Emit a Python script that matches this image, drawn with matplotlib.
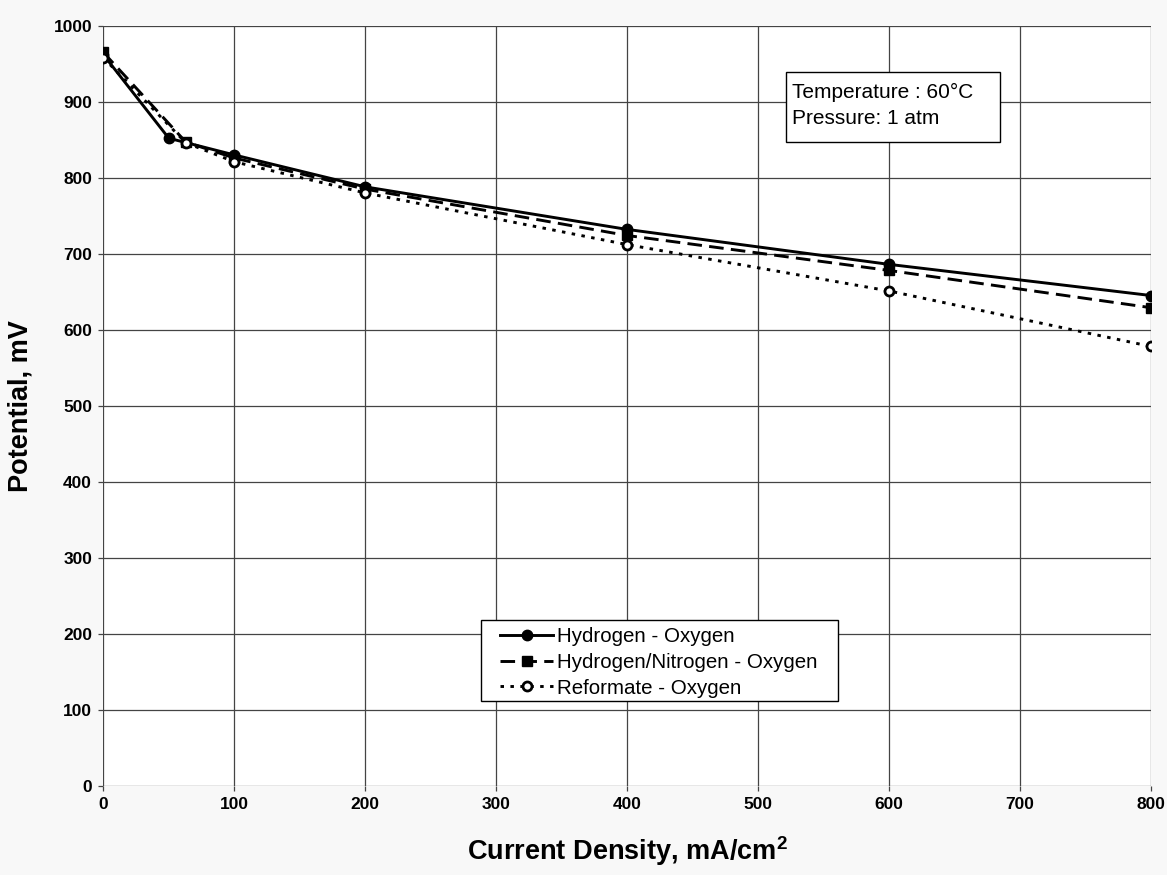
import matplotlib
matplotlib.use("Agg")
import matplotlib.pyplot as plt
from matplotlib.patches import Rectangle

plt.rcParams['font.family'] = ['Liberation Sans', 'DejaVu Sans']
plt.rcParams['mathtext.fontset'] = 'custom'
plt.rcParams['mathtext.rm'] = 'Liberation Sans'
plt.rcParams['mathtext.bf'] = 'Liberation Sans:bold'

h2_x = [0, 50, 100, 200, 400, 600, 800]
h2_y = [962, 852, 830, 788, 732, 686, 645]
n2_x = [0, 63, 100, 200, 400, 600, 800]
n2_y = [965, 847, 826, 785, 724, 678, 629]
ref_x = [0, 63, 100, 200, 400, 600, 800]
ref_y = [958, 846, 821, 780, 712, 651, 578]

labels = ["Hydrogen - Oxygen", "Hydrogen/Nitrogen - Oxygen", "Reformate - Oxygen"]
x_ticks = [0, 100, 200, 300, 400, 500, 600, 700, 800]
y_ticks = [0, 100, 200, 300, 400, 500, 600, 700, 800, 900, 1000]

fig = plt.figure(figsize=(11.67, 8.75), dpi=100)
fig.patch.set_facecolor('#f8f8f8')
ax = fig.add_axes([0.0885, 0.102, 0.8978, 0.8686])
ax.set_facecolor('white')

ax.plot(h2_x, h2_y, color='black', lw=2.1, ls='-', marker='o', ms=7.5,
        mfc='black', mec='black', label=labels[0], zorder=3)
ax.plot(n2_x, n2_y, color='black', lw=2.1, ls=(0, (5, 2.5)), marker='s', ms=7,
        mfc='black', mec='black', label=labels[1], zorder=3)
ax.plot(ref_x, ref_y, color='black', lw=2.1, ls=(0, (1.2, 2.2)), marker='o', ms=6.5,
        mfc='white', mec='black', mew=2, label=labels[2], zorder=3)

ax.set_xlim(0, 800)
ax.set_ylim(0, 1000)
ax.set_xticks(x_ticks)
ax.set_yticks(y_ticks)
ax.grid(True, color='#444444', lw=0.9)
ax.set_axisbelow(True)
for s in ax.spines.values():
    s.set_visible(False)
ax.tick_params(axis='both', direction='out', length=3.6, width=0.9, color='#444444',
               labelsize=12.5, pad=4.5)
for lab in ax.get_xticklabels() + ax.get_yticklabels():
    lab.set_fontweight('bold')

ax.set_xlabel("Current Density, mA/cm$^\\mathbf{2}$", fontsize=19.5, fontweight='bold', labelpad=16)
ax.set_ylabel("Potential, mV", fontsize=19.5, fontweight='bold', labelpad=14)

# legend frame
frame = Rectangle((481/1167, 1 - 701/875), 357/1167, 81/875,
                  transform=fig.transFigure, fc='white', ec='black', lw=1,
                  zorder=4, clip_on=False)
ax.add_patch(frame)
leg = ax.legend(loc='upper left', bbox_to_anchor=(500/1167, 1 - 627/875),
                bbox_transform=fig.transFigure, fontsize=14.8, frameon=False,
                handlelength=2.6, handletextpad=0.15, borderpad=0,
                labelspacing=0.33, borderaxespad=0)
leg.set_zorder(6)

fig.patches.append(Rectangle((786/1167, 1 - 142/875), 214/1167, 70/875,
                             transform=fig.transFigure, fc='white', ec='black', lw=1,
                             zorder=5))
fig.text(792/1167, 1 - 92/875, "Temperature : 60°C", fontsize=15,
         ha='left', va='center', zorder=6)
fig.text(792/1167, 1 - 118/875, "Pressure: 1 atm", fontsize=15,
         ha='left', va='center', zorder=6)

fig.savefig('out.png', dpi=100, facecolor=fig.get_facecolor())
